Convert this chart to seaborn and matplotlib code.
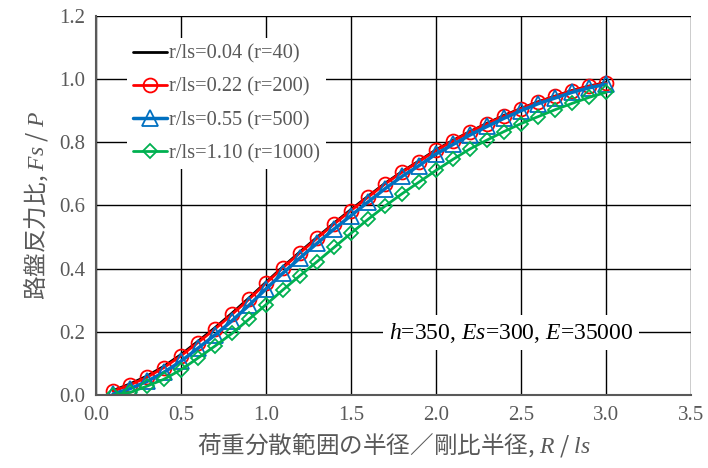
import numpy as np
import pandas as pd
import matplotlib
matplotlib.use("Agg")
import matplotlib.pyplot as plt
import seaborn as sns

x_vals = [0.1, 0.2, 0.3, 0.4, 0.5, 0.6, 0.7, 0.8, 0.9, 1.0,
          1.1, 1.2, 1.3, 1.4, 1.5, 1.6, 1.7, 1.8, 1.9, 2.0,
          2.1, 2.2, 2.3, 2.4, 2.5, 2.6, 2.7, 2.8, 2.9, 3.0]

fs_004 = [0.014, 0.035, 0.060, 0.091, 0.128, 0.170, 0.213, 0.259, 0.307, 0.357,
          0.406, 0.453, 0.499, 0.544, 0.587, 0.629, 0.670, 0.707, 0.741, 0.776,
          0.806, 0.834, 0.860, 0.885, 0.907, 0.928, 0.946, 0.964, 0.978, 0.989]
fs_022 = [0.012, 0.032, 0.056, 0.087, 0.124, 0.166, 0.209, 0.255, 0.303, 0.354,
          0.403, 0.450, 0.496, 0.541, 0.584, 0.626, 0.668, 0.705, 0.739, 0.774,
          0.804, 0.833, 0.858, 0.883, 0.906, 0.927, 0.945, 0.963, 0.977, 0.987]
fs_055 = [0.003, 0.020, 0.043, 0.072, 0.107, 0.148, 0.190, 0.235, 0.284, 0.336,
          0.386, 0.434, 0.480, 0.525, 0.568, 0.611, 0.653, 0.692, 0.726, 0.763,
          0.793, 0.823, 0.850, 0.876, 0.900, 0.922, 0.940, 0.958, 0.972, 0.984]
fs_110 = [0.000, 0.008, 0.028, 0.050, 0.080, 0.117, 0.155, 0.195, 0.240, 0.286,
          0.333, 0.378, 0.422, 0.467, 0.512, 0.556, 0.598, 0.637, 0.674, 0.711,
          0.746, 0.779, 0.807, 0.834, 0.859, 0.881, 0.903, 0.923, 0.942, 0.958]

series_labels = ["r/ls=0.04 (r=40)", "r/ls=0.22 (r=200)",
                 "r/ls=0.55 (r=500)", "r/ls=1.10 (r=1000)"]
series_values = [fs_004, fs_022, fs_055, fs_110]
series_colors = ["#000000", "#FF0000", "#0070C0", "#00B050"]
series_markers = [None, "o", "^", "D"]
series_msize = [0, 10, 11, 7.5]
series_lw = [2.0, 2.0, 2.5, 2.0]

x_ticks = [0.0, 0.5, 1.0, 1.5, 2.0, 2.5, 3.0, 3.5]
y_ticks = [0.0, 0.2, 0.4, 0.6, 0.8, 1.0, 1.2]

sns.set_theme(style="white")
plt.rcParams["font.family"] = ["Liberation Serif", "DejaVu Sans"]
plt.rcParams["mathtext.fontset"] = "custom"
plt.rcParams["mathtext.rm"] = "Liberation Serif"
plt.rcParams["mathtext.it"] = "Liberation Serif:italic"

gray = "#595959"
fig = plt.figure(figsize=(7.08, 4.68), dpi=100)
ax = fig.add_axes([0.1356, 0.156, 0.8404, 0.810])

for lab, vals, col, mk, ms, lw in zip(series_labels, series_values, series_colors,
                                     series_markers, series_msize, series_lw):
    df = pd.DataFrame({"x": x_vals, "y": vals})
    kw = dict(color=col, linewidth=lw, label=lab)
    if mk is not None:
        kw.update(marker=mk, markersize=ms, markerfacecolor="none",
                  markeredgecolor=col, markeredgewidth=1.3)
    sns.lineplot(data=df, x="x", y="y", ax=ax, sort=False, estimator=None, **kw)

ax.set_xlim(0, 3.5)
ax.set_ylim(0, 1.2)
ax.set_xticks(x_ticks)
ax.set_yticks(y_ticks)
ax.set_xticklabels([f"{v:.1f}" for v in x_ticks])
ax.set_yticklabels([f"{v:.1f}" for v in y_ticks])
ax.tick_params(axis="both", length=0, labelsize=15, labelcolor=gray, pad=8)
ax.grid(True, color="#000000", linewidth=1.0)
ax.set_axisbelow(True)
for side in ["top", "right"]:
    ax.spines[side].set_visible(False)
for side in ["left", "bottom"]:
    ax.spines[side].set_color(gray)
    ax.spines[side].set_linewidth(1.5)

ax.set_xlabel("荷重分散範囲の半径／剛比半径, $R$ / $ls$",
              family=["Noto Sans CJK JP", "DejaVu Sans"], fontsize=17, color=gray, labelpad=4)
ax.set_ylabel("路盤反力比, $Fs$ / $P$",
              family=["Noto Sans CJK JP", "DejaVu Sans"], fontsize=17, color=gray, labelpad=6)

leg = ax.legend(loc="upper left", bbox_to_anchor=(0.035, 0.968), frameon=True,
                fancybox=False, edgecolor="white", facecolor="white", framealpha=1.0,
                prop={"family": "Liberation Serif", "size": 14.7},
                handlelength=1.65, handletextpad=0.1, labelspacing=0.68, borderpad=0.3)
for t in leg.get_texts():
    t.set_color(gray)
leg.get_frame().set_linewidth(0)

ax.text(2.44, 0.197, "$h$=350, $Es$=300, $E$=35000", fontsize=17,
        family="Liberation Serif", color="#000000", ha="center", va="center",
        bbox=dict(facecolor="white", edgecolor="none", pad=4))

fig.savefig("out.png", dpi=100)
